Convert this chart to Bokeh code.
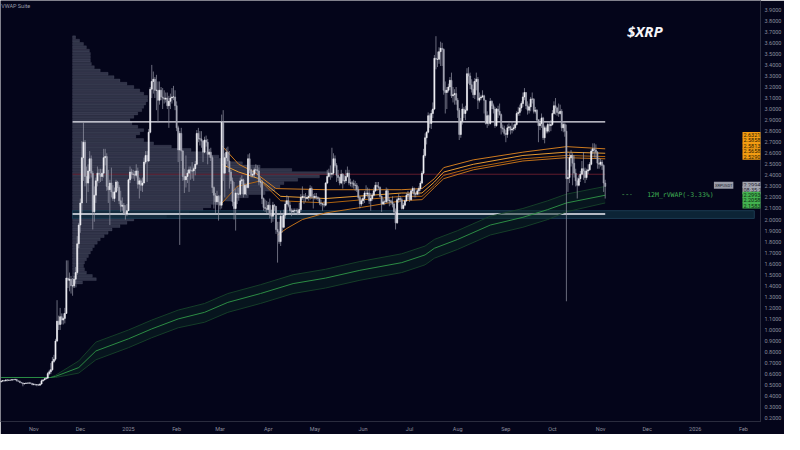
import numpy as np
import pandas as pd
from bokeh.plotting import figure
from bokeh.models import (ColumnDataSource, Range1d, FixedTicker, PrintfTickFormatter,
                          CustomJSTickFormatter, Label)
from bokeh.embed import file_html
from bokeh.resources import INLINE

# ---------------- data ----------------
START_DATE = "2024-10-11"
first_open = 0.530

close = [
    # Oct 2024 (11-31)
    0.537,0.542,0.539,0.548,0.544,0.547,0.546,0.551,0.550,0.553,0.539,0.537,0.525,0.521,0.512,0.516,0.520,0.518,0.521,0.517,0.505,
    # Nov 2024
    0.508,0.503,0.505,0.500,0.511,0.540,0.548,0.558,0.564,0.605,0.622,0.640,0.715,0.735,0.900,1.080,1.050,1.120,1.090,1.105,1.150,1.470,1.450,1.460,1.400,1.400,1.460,1.520,1.780,1.950,
    # Dec 2024
    2.150,2.560,2.700,2.390,2.330,2.440,2.550,2.420,2.070,2.220,2.350,2.420,2.410,2.390,2.420,2.560,2.570,2.300,2.270,2.330,2.250,2.190,2.250,2.340,2.290,2.170,2.120,2.130,2.060,2.050,2.080,
    # Jan 2025
    2.360,2.430,2.410,2.410,2.400,2.440,2.320,2.350,2.310,2.330,2.520,2.580,2.530,2.790,3.180,3.250,3.270,3.170,3.170,3.080,3.170,3.110,3.100,3.090,3.100,3.030,3.070,3.100,3.110,3.110,3.030,
    # Feb 2025
    2.830,2.630,2.780,2.620,2.390,2.360,2.390,2.420,2.450,2.440,2.440,2.460,2.500,2.780,2.730,2.730,2.710,2.610,2.720,2.700,2.590,2.610,2.560,2.290,2.220,2.160,2.210,2.160,
    # Mar 2025
    2.130,2.880,2.420,2.560,2.610,2.530,2.430,2.350,2.160,2.100,2.240,2.230,2.230,2.350,2.360,2.230,2.310,2.290,2.550,2.450,2.400,2.410,2.450,2.450,2.440,2.340,2.340,2.190,2.110,2.100,2.090,
    # Apr 2025
    2.130,2.040,2.030,2.130,2.120,1.910,1.890,1.800,2.030,1.930,2.040,2.140,2.170,2.130,2.080,2.070,2.080,2.080,2.080,2.060,2.090,2.200,2.210,2.200,2.190,2.200,2.210,2.280,2.210,2.200,
    # May 2025
    2.210,2.200,2.190,2.150,2.140,2.140,2.130,2.330,2.390,2.420,2.410,2.420,2.550,2.490,2.400,2.380,2.330,2.410,2.350,2.350,2.390,2.420,2.330,2.330,2.330,2.310,2.310,2.270,2.200,2.140,2.170,
    # Jun 2025
    2.190,2.240,2.230,2.240,2.170,2.190,2.220,2.260,2.310,2.300,2.290,2.210,2.140,2.160,2.160,2.260,2.170,2.170,2.160,2.140,2.070,1.970,2.180,2.190,2.180,2.100,2.130,2.170,2.220,2.230,
    # Jul 2025
    2.180,2.260,2.280,2.230,2.230,2.260,2.280,2.330,2.420,2.580,2.740,2.790,2.940,2.870,2.960,3.000,3.460,3.450,3.450,3.520,3.550,3.540,3.170,3.150,3.170,3.200,3.260,3.120,3.130,3.140,3.080,
    # Aug 2025
    2.990,2.770,2.890,3.000,2.960,2.990,3.320,3.300,3.220,3.180,3.130,3.250,3.270,3.080,3.100,3.110,3.120,3.080,2.870,2.940,2.870,3.070,3.030,3.000,2.850,3.000,2.980,2.950,2.830,2.820,2.780,
    # Sep 2025
    2.770,2.830,2.840,2.810,2.820,2.830,2.860,2.960,2.970,3.010,3.050,3.110,3.150,3.030,2.990,3.020,3.090,3.090,2.980,2.990,2.900,2.850,2.870,2.920,2.740,2.830,2.800,2.860,2.850,2.860,
    # Oct 2025
    2.960,3.030,3.010,2.970,2.960,2.980,2.830,2.860,2.800,2.370,2.380,2.560,2.580,2.510,2.420,2.350,2.310,2.370,2.410,2.460,2.440,2.380,2.440,2.450,2.500,2.620,2.640,2.630,2.610,2.510,2.500,
    # Nov 2025 (1-4)
    2.520,2.490,2.330,2.300,
]

high = [
    0.542,0.545,0.544,0.553,0.556,0.552,0.551,0.555,0.553,0.558,0.556,0.544,0.540,0.530,0.525,0.520,0.524,0.524,0.530,0.524,0.520,
    0.520,0.512,0.510,0.512,0.516,0.552,0.553,0.565,0.572,0.620,0.640,0.700,0.755,0.775,0.920,1.270,1.130,1.200,1.150,1.150,1.200,1.630,1.630,1.520,1.490,1.470,1.490,1.570,1.850,1.970,
    2.190,2.710,2.880,2.720,2.480,2.500,2.620,2.580,2.440,2.300,2.380,2.480,2.460,2.460,2.460,2.640,2.640,2.600,2.450,2.360,2.470,2.310,2.290,2.360,2.350,2.310,2.260,2.200,2.150,2.130,2.140,
    2.370,2.480,2.460,2.450,2.440,2.500,2.470,2.380,2.370,2.380,2.560,2.620,2.620,2.820,3.200,3.400,3.340,3.290,3.310,3.250,3.250,3.200,3.190,3.170,3.150,3.150,3.120,3.140,3.190,3.210,3.170,
    3.070,2.850,2.800,2.830,2.630,2.460,2.580,2.450,2.480,2.480,2.520,2.480,2.530,2.810,2.830,2.800,2.800,2.720,2.750,2.760,2.730,2.640,2.650,2.580,2.300,2.240,2.260,2.220,
    2.220,2.950,2.990,2.600,2.650,2.660,2.620,2.450,2.380,2.340,2.280,2.300,2.290,2.380,2.400,2.370,2.330,2.320,2.590,2.600,2.460,2.440,2.470,2.500,2.490,2.470,2.380,2.360,2.200,2.180,2.170,
    2.160,2.190,2.090,2.160,2.140,2.120,1.980,1.980,2.080,2.060,2.090,2.170,2.220,2.210,2.160,2.100,2.100,2.100,2.100,2.100,2.150,2.230,2.300,2.230,2.240,2.220,2.270,2.310,2.300,2.230,
    2.240,2.240,2.210,2.200,2.180,2.150,2.170,2.340,2.450,2.460,2.490,2.650,2.600,2.580,2.510,2.450,2.390,2.450,2.420,2.400,2.450,2.480,2.450,2.370,2.350,2.360,2.350,2.330,2.300,2.210,2.190,
    2.210,2.260,2.310,2.290,2.280,2.240,2.240,2.290,2.340,2.340,2.340,2.300,2.220,2.190,2.180,2.290,2.280,2.200,2.180,2.210,2.150,2.100,2.200,2.230,2.210,2.200,2.150,2.180,2.240,2.260,
    2.240,2.270,2.300,2.290,2.240,2.280,2.300,2.350,2.440,2.640,2.780,2.800,2.970,2.960,2.990,3.060,3.490,3.660,3.520,3.560,3.610,3.600,3.550,3.250,3.200,3.230,3.290,3.330,3.200,3.180,3.200,
    3.100,3.010,2.920,3.050,3.020,3.030,3.370,3.380,3.330,3.270,3.250,3.280,3.330,3.290,3.150,3.130,3.170,3.130,3.080,2.980,2.950,3.100,3.080,3.050,3.020,3.010,3.030,3.050,2.960,2.860,2.850,
    2.810,2.860,2.870,2.850,2.890,2.860,2.880,2.980,3.020,3.040,3.070,3.150,3.190,3.150,3.070,3.050,3.110,3.150,3.100,3.020,3.000,2.910,2.910,2.960,2.930,2.850,2.850,2.880,2.890,2.900,
    2.990,3.070,3.100,3.020,3.050,3.040,3.000,2.890,2.880,2.860,2.450,2.600,2.630,2.600,2.580,2.460,2.380,2.400,2.440,2.530,2.610,2.470,2.460,2.500,2.520,2.640,2.690,2.690,2.680,2.620,2.560,
    2.550,2.540,2.500,2.360,
]

low = [
    0.526,0.535,0.533,0.536,0.535,0.539,0.539,0.543,0.545,0.546,0.535,0.530,0.519,0.517,0.490,0.508,0.512,0.511,0.514,0.513,0.500,
    0.500,0.497,0.490,0.495,0.498,0.506,0.532,0.544,0.553,0.560,0.590,0.600,0.630,0.700,0.720,0.890,1.000,1.000,1.050,1.050,1.060,1.150,1.380,1.350,1.330,1.310,1.380,1.420,1.500,1.740,
    1.880,2.060,2.350,2.300,2.150,2.250,2.370,2.380,1.910,1.980,2.150,2.300,2.330,2.340,2.350,2.380,2.490,2.260,2.150,1.950,2.200,2.170,2.160,2.240,2.260,2.140,2.070,2.080,2.050,2.000,2.030,
    2.080,2.330,2.370,2.370,2.350,2.380,2.280,2.190,2.260,2.250,2.330,2.500,2.340,2.520,2.780,3.100,3.140,3.100,2.990,2.880,3.040,3.080,3.000,3.050,3.060,3.000,2.830,3.000,3.050,3.080,2.990,
    2.800,2.520,1.770,2.530,2.350,2.240,2.290,2.330,2.250,2.360,2.370,2.350,2.400,2.490,2.700,2.670,2.650,2.520,2.600,2.660,2.500,2.560,2.530,2.240,2.100,2.060,2.130,1.990,
    2.090,2.100,2.350,2.200,2.500,2.480,2.280,2.320,2.120,2.000,1.900,2.140,2.170,2.220,2.320,2.200,2.230,2.220,2.280,2.420,2.380,2.380,2.380,2.420,2.400,2.310,2.290,2.140,2.080,2.070,2.060,
    2.060,2.010,1.970,1.980,2.080,1.870,1.610,1.780,1.760,1.880,1.920,2.010,2.050,2.110,2.060,2.030,2.050,2.060,2.060,2.040,2.050,2.070,2.180,2.140,2.160,2.180,2.170,2.180,2.190,2.100,
    2.180,2.180,2.170,2.130,2.120,2.080,2.110,2.120,2.320,2.380,2.360,2.380,2.400,2.470,2.340,2.350,2.310,2.320,2.280,2.320,2.330,2.380,2.310,2.300,2.290,2.280,2.260,2.250,2.180,2.100,2.120,
    2.140,2.150,2.210,2.200,2.140,2.080,2.170,2.210,2.250,2.260,2.270,2.200,2.070,2.130,2.130,2.150,2.150,2.120,2.130,2.110,2.050,1.910,1.960,2.150,2.160,2.090,2.090,2.120,2.160,2.180,
    2.160,2.170,2.240,2.200,2.200,2.220,2.220,2.260,2.320,2.410,2.560,2.680,2.780,2.830,2.820,2.920,2.990,3.360,3.380,3.410,3.390,3.390,3.130,2.960,3.000,3.150,3.170,3.100,3.060,3.040,3.040,
    2.920,2.720,2.740,2.860,2.920,2.900,2.980,3.230,3.180,3.150,3.100,3.090,3.170,3.000,3.060,3.080,3.100,2.960,2.860,2.830,2.850,2.860,3.000,2.960,2.830,2.840,2.920,2.940,2.770,2.790,2.760,
    2.700,2.740,2.800,2.770,2.780,2.800,2.810,2.850,2.940,2.940,2.980,3.020,3.080,3.000,2.950,2.960,2.980,3.050,2.960,2.960,2.880,2.700,2.810,2.830,2.720,2.690,2.780,2.780,2.790,2.800,
    2.850,2.950,2.950,2.940,2.930,2.950,2.800,2.790,2.750,1.260,2.250,2.330,2.480,2.310,2.380,2.300,2.190,2.300,2.340,2.400,2.360,2.330,2.360,2.410,2.440,2.490,2.590,2.560,2.550,2.460,2.460,
    2.480,2.450,2.250,2.190,
]

# Volume profile (price bins from 1.40 upward in 0.03 steps; relative volume)
vp_first_price = 1.40
vp_step = 0.03
vp_volume = [4,10,24,20,14,12,11,12,14,16,
             18,20,22,25,28,32,36,40,48,55,
             62,95,118,132,140,150,165,178,195,205,
             210,214,228,250,260,222,190,172,158,148,
             138,120,100,82,72,64,68,72,66,60,
             58,62,66,70,72,74,76,76,72,68,
             62,55,48,42,36,28,22,19,18,18,
             18,17,14,11,7,3]
vp_start = "2024-11-26"

# Horizontal levels
level_start = "2024-11-26"
level_end = "2025-11-04"
band_end = "2026-02-08"
resistance = 2.885
support = 2.05
poc = 2.41
band_lo, band_hi = 2.01, 2.08

# 12M rolling VWAP (green) readings
g_dates = ["2024-10-11","2024-11-12","2024-11-15","2024-11-30","2024-12-11","2025-01-01","2025-01-16",
           "2025-02-02","2025-02-19","2025-03-06","2025-03-27","2025-04-17","2025-05-08","2025-05-30",
           "2025-06-26","2025-07-11","2025-07-17","2025-08-01","2025-08-22","2025-09-12","2025-09-28",
           "2025-10-10","2025-11-04"]
g_mid = [0.57,0.57,0.58,0.66,0.81,0.92,1.01,1.10,1.16,1.25,1.33,1.42,1.47,1.54,1.61,1.68,1.74,1.82,1.95,2.02,2.09,2.15,2.22]
g_up = [0.57,0.57,0.59,0.72,0.89,1.00,1.09,1.18,1.24,1.33,1.41,1.50,1.55,1.62,1.69,1.76,1.82,1.90,2.03,2.10,2.17,2.23,2.30]
g_lo = [0.57,0.57,0.57,0.61,0.73,0.84,0.93,1.02,1.07,1.16,1.24,1.33,1.38,1.45,1.52,1.59,1.65,1.73,1.86,1.93,2.00,2.07,2.15]

# Anchored VWAP bands (orange) readings
oa_dates = ["2025-03-02","2025-03-13","2025-03-23","2025-04-06","2025-05-08","2025-06-26","2025-07-09","2025-07-17","2025-07-23","2025-08-11","2025-09-12","2025-10-10","2025-11-04"]
oa_vals = [2.67,2.50,2.43,2.28,2.27,2.27,2.28,2.37,2.47,2.54,2.61,2.66,2.64]
ob_dates = ["2025-03-02","2025-03-13","2025-03-26","2025-04-09","2025-05-08","2025-06-26","2025-07-09","2025-07-17","2025-07-23","2025-08-11","2025-09-12","2025-10-10","2025-11-04"]
ob_vals = [2.50,2.43,2.37,2.21,2.19,2.24,2.24,2.34,2.43,2.50,2.58,2.61,2.60]
oc_dates = ["2025-03-01","2025-03-12","2025-03-27","2025-04-09","2025-05-08","2025-06-26","2025-07-09","2025-07-17","2025-07-23","2025-08-11","2025-09-12","2025-10-10","2025-11-04"]
oc_vals = [2.13,2.30,2.35,2.17,2.15,2.21,2.21,2.31,2.40,2.47,2.55,2.58,2.57]
od_dates = ["2025-04-07","2025-04-13","2025-04-23","2025-05-08","2025-05-31","2025-06-26","2025-07-09","2025-07-17","2025-07-23","2025-08-11","2025-09-12","2025-10-10","2025-11-04"]
od_vals = [1.86,1.92,2.00,2.06,2.11,2.17,2.18,2.29,2.37,2.45,2.53,2.56,2.55]

# Axis ticks
y_ticks = [0.2,0.3,0.4,0.5,0.6,0.7,0.8,0.9,1.0,1.1,1.2,1.3,1.4,1.5,1.6,1.7,1.8,1.9,2.0,
           2.1,2.2,2.3,2.4,2.5,2.6,2.7,2.8,2.9,3.0,3.1,3.2,3.3,3.4,3.5,3.6,3.7,3.8,3.9]
x_tick_dates = ["2024-11-01","2024-12-01","2025-01-01","2025-02-01","2025-03-01","2025-04-01","2025-05-01",
                "2025-06-01","2025-07-01","2025-08-01","2025-09-01","2025-10-01","2025-11-01","2025-12-01",
                "2026-01-01","2026-02-01"]
x_tick_labels = ["Nov","Dec","2025","Feb","Mar","Apr","May","Jun","Jul","Aug","Sep","Oct","Nov","Dec","2026","Feb"]

# Price-scale tags (text rows and the price of their first row)
orange_tag = ["2.6321","2.5858","2.5813","2.5658","2.5290"]
orange_tag_top = 2.765
gray_tag = ["2.2994","08:35:22"]
gray_tag_top = 2.315
green_tag = ["2.2993","2.2058","2.1583"]
green_tag_top = 2.225
tag_row = 0.049

# ---------------- helpers ----------------
def ms(t):
    return pd.Timestamp(t).value / 1e6

DAY = 86400000.0
BG = "#04051a"

assert len(close) == len(high) == len(low)
dates = pd.date_range(START_DATE, periods=len(close), freq="D")
opens = [first_open] + close[:-1]
df = pd.DataFrame({"date": [ms(d) for d in dates], "open": opens, "close": close,
                   "high": high, "low": low})
df["top"] = df[["open", "close"]].max(axis=1)
df["bottom"] = df[["open", "close"]].min(axis=1)
df["color"] = np.where(df["close"] >= df["open"], "#f1f1f7", "#a6a7b6")
src = ColumnDataSource(df)

x_start = ms("2024-10-10 14:00")
x_end = ms("2026-02-12")

p = figure(width=784, height=434, x_axis_type="datetime",
           x_range=Range1d(x_start, x_end), y_range=Range1d(0.1715, 3.983),
           y_axis_location="right", output_backend="svg", toolbar_location=None,
           background_fill_color=BG, border_fill_color=BG, outline_line_color=None,
           min_border_left=0, min_border_top=0, min_border_right=24, min_border_bottom=13)
p.grid.visible = False

# volume profile
unit = 165.3 * DAY / 260.0
vp_prices = [vp_first_price + vp_step * i for i in range(len(vp_volume))]
vp_left = ms(vp_start)
vp_src = ColumnDataSource(dict(y=vp_prices, left=[vp_left] * len(vp_volume),
                               right=[vp_left + v * unit for v in vp_volume]))
p.hbar(y="y", left="left", right="right", height=vp_step * 0.85, source=vp_src,
       fill_color="#565a70", fill_alpha=0.55, line_color="#7a7e92", line_alpha=0.35, line_width=0.5)

# blue band & levels
p.quad(left=[ms(level_start)], right=[ms(band_end)], bottom=[band_lo], top=[band_hi],
       fill_color="#0e2a3c", fill_alpha=0.85, line_color="#1b3a50", line_width=1)
p.segment(x0=[ms(level_start)], x1=[ms(level_end)], y0=[poc], y1=[poc],
          line_color="#6a1f30", line_width=1, line_alpha=0.9)
p.segment(x0=[ms(level_start)] * 2, x1=[ms(level_end)] * 2, y0=[resistance, support],
          y1=[resistance, support], line_color="#ececf4", line_width=1.3)

# green rolling VWAP
gx = [ms(d) for d in g_dates]
p.varea(x=gx, y1=g_lo, y2=g_up, fill_color="#0b2a24", fill_alpha=0.45)
p.line(gx, g_up, line_color="#17442a", line_width=0.9)
p.line(gx, g_lo, line_color="#17442a", line_width=0.9)
p.line(gx, g_mid, line_color="#2c8c44", line_width=1)

# orange anchored VWAP lines
for dts, vals, col, w in [(oa_dates, oa_vals, "#d98220", 1.0), (ob_dates, ob_vals, "#f2a232", 1.0),
                          (oc_dates, oc_vals, "#b8680f", 1.0), (od_dates, od_vals, "#c9761a", 1.0)]:
    p.line([ms(d) for d in dts], vals, line_color=col, line_width=w, line_alpha=0.95)

# candles
p.segment(x0="date", x1="date", y0="low", y1="high", source=src,
          line_color="#9c9dac", line_width=0.8, line_alpha=0.85)
p.vbar(x="date", width=0.7 * DAY, top="top", bottom="bottom", source=src,
       fill_color="color", line_color="color", line_width=0.6)

# label connector + text
p.segment(x0=[ms("2025-11-15")], x1=[ms("2025-11-21")], y0=[2.226], y1=[2.226],
          line_color="#2e6a3c", line_width=1, line_dash="2 2")
p.add_layout(Label(x=ms("2025-12-01"), y=2.226, text="12M_rVWAP(-3.33%)",
                   text_font="DejaVu Sans Mono", text_font_size="6.5px",
                   text_color="#3fae52", text_baseline="middle"))
p.add_layout(Label(x=ms("2025-11-18"), y=3.62, text="$XRP", text_font="Open Sans",
                   text_font_style="bold italic", text_font_size="15px",
                   text_color="#f4f4f8", text_baseline="bottom"))
p.add_layout(Label(x=ms("2024-10-11"), y=3.93, text="VWAP Suite", text_font="Roboto",
                   text_font_size="5.5px", text_color="#9a9cab", text_baseline="middle"))

# price-scale tags (drawn just inside the right edge of the plot frame)
p.add_layout(Label(x=ms("2026-01-13"), y=2.31, text="XRPUSDT", text_font="Roboto",
                   text_font_size="4px", text_color="#20212e", text_baseline="middle",
                   background_fill_color="#9a9ca8", padding=1))

tag_x = x_end - 11.6 * DAY
for rows, top, bg, fg in [(orange_tag, orange_tag_top, "#f39c12", "#2a1a00"),
                          (gray_tag, gray_tag_top, "#a3a5b0", "#20212e"),
                          (green_tag, green_tag_top, "#43b14f", "#0b2a10")]:
    for i, r in enumerate(rows):
        p.add_layout(Label(x=tag_x, y=top - i * tag_row, text=r, text_font="Roboto",
                           text_font_size="5.5px", text_color=fg, text_baseline="middle",
                           background_fill_color=bg, padding=1))

# axes
ya = p.yaxis[0]
ya.ticker = FixedTicker(ticks=y_ticks)
ya.formatter = PrintfTickFormatter(format="%.4f")
ya.major_label_text_font = "Roboto"
ya.major_label_text_font_size = "5.5px"
ya.major_label_text_color = "#8c8e9d"
ya.major_tick_line_color = None
ya.minor_tick_line_color = None
ya.major_tick_out = 0
ya.major_tick_in = 0
ya.minor_tick_out = 0
ya.axis_line_color = "#2a2c3e"
ya.major_label_standoff = 4

xa = p.xaxis[0]
x_tick_ms = [ms(d) for d in x_tick_dates]
xa.ticker = FixedTicker(ticks=x_tick_ms)
xa.formatter = CustomJSTickFormatter(args=dict(tick_pos=x_tick_ms, tick_txt=x_tick_labels),
                                     code="const i = tick_pos.indexOf(tick); return i >= 0 ? tick_txt[i] : '';")
xa.major_label_text_font = "Roboto"
xa.major_label_text_font_size = "5.5px"
xa.major_label_text_color = "#8c8e9d"
xa.major_tick_line_color = None
xa.minor_tick_line_color = None
xa.major_tick_out = 0
xa.major_tick_in = 0
xa.minor_tick_out = 0
xa.axis_line_color = "#2a2c3e"
xa.major_label_standoff = 4

open("out.html", "w").write(file_html(p, INLINE))
